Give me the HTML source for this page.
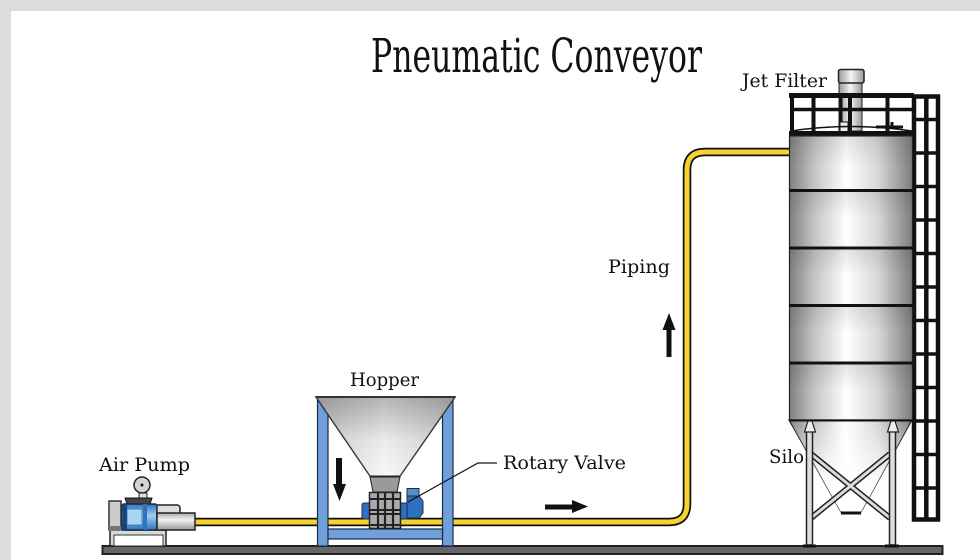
<!DOCTYPE html>
<html><head><meta charset="utf-8"><style>
html,body{margin:0;padding:0;background:#fff}
svg{display:block}
text{font-family:"DejaVu Serif","Liberation Serif",serif;fill:#111}
</style></head><body>
<svg width="980" height="560" viewBox="0 0 980 560" xmlns="http://www.w3.org/2000/svg">
<defs>
<linearGradient id="silo" x1="0" x2="1" y1="0" y2="0"><stop offset="0" stop-color="#808080"/><stop offset=".2" stop-color="#c4c4c4"/><stop offset=".46" stop-color="#fff"/><stop offset=".72" stop-color="#d8d8d8"/><stop offset="1" stop-color="#7c7c7c"/></linearGradient>
<linearGradient id="band" x1="0" x2="0" y1="0" y2="1"><stop offset="0" stop-color="#000" stop-opacity=".1"/><stop offset="1" stop-color="#000" stop-opacity="0"/></linearGradient>
<linearGradient id="fade" x1="0" x2="0" y1="0" y2="1"><stop offset="0" stop-color="#fff" stop-opacity="0"/><stop offset=".75" stop-color="#fff" stop-opacity="1"/></linearGradient>
<linearGradient id="cone" x1="0" x2="0" y1="0" y2="1"><stop offset="0" stop-color="#949494"/><stop offset=".55" stop-color="#e6e6e6"/><stop offset="1" stop-color="#fafafa"/></linearGradient>
<linearGradient id="hop" x1="0" x2="1" y1="0" y2="0"><stop offset="0" stop-color="#999"/><stop offset=".5" stop-color="#f4f4f4"/><stop offset="1" stop-color="#999"/></linearGradient>
<linearGradient id="cyl" x1="0" x2="0" y1="0" y2="1"><stop offset="0" stop-color="#aaa"/><stop offset=".4" stop-color="#f2f2f2"/><stop offset="1" stop-color="#999"/></linearGradient>
<linearGradient id="mot" x1="0" x2="0" y1="0" y2="1"><stop offset="0" stop-color="#2f72bd"/><stop offset=".45" stop-color="#9fd0f2"/><stop offset="1" stop-color="#2f72bd"/></linearGradient>
</defs>
<rect width="980" height="560" fill="#fff"/>
<rect width="980" height="11" fill="#dcdcdc"/>
<rect width="11" height="560" fill="#dcdcdc"/>

<text x="371" y="72" font-size="47" textLength="331" lengthAdjust="spacingAndGlyphs">Pneumatic Conveyor</text>

<!-- ground -->
<rect x="102.500" y="546" width="840" height="8" fill="#666" stroke="#222" stroke-width="2"/>

<!-- pipe -->
<path d="M190 522H669Q687 522 687 504V170Q687 152 705 152H792" fill="none" stroke="#111" stroke-width="8.500"/>
<path d="M190 522H669Q687 522 687 504V170Q687 152 705 152H792" fill="none" stroke="#f7d22f" stroke-width="5"/>

<!-- air pump -->
<rect x="110" y="530" width="56" height="16" fill="#d8d8d8" stroke="#222" stroke-width="1.500"/>
<rect x="114" y="535" width="49" height="11" fill="#fff" stroke="#333"/>
<rect x="109" y="501" width="12" height="29" fill="#ccc" stroke="#333" stroke-width="1.500"/>
<rect x="109" y="526" width="50" height="5" fill="#777"/>
<rect x="155" y="505" width="25" height="10" rx="3" fill="#ddd" stroke="#222" stroke-width="1.500"/>
<rect x="139" y="493" width="8" height="11" fill="#ddd" stroke="#222"/>
<circle cx="142" cy="485" r="8" fill="#d4d4d4" stroke="#222" stroke-width="1.500"/>
<circle cx="142" cy="485" r="1.500" fill="#111"/>
<path d="M125 498H152L150 504H127Z" fill="#444" stroke="#111"/>
<rect x="122" y="504" width="35" height="26" rx="2" fill="url(#mot)" stroke="#1a2b44" stroke-width="1.500"/>
<rect x="123" y="504" width="4" height="26" fill="#14427c"/>
<rect x="127" y="509" width="15" height="16" fill="#a7d5f4" stroke="#2b5d9c" stroke-width=".7"/>
<rect x="143" y="504" width="4" height="26" fill="#2f72bd"/>
<rect x="157" y="513" width="38" height="17" fill="url(#cyl)" stroke="#222" stroke-width="1.500"/>
<text x="99" y="471" font-size="19" textLength="91" lengthAdjust="spacingAndGlyphs">Air Pump</text>

<!-- hopper frame -->
<g fill="#6f9fdc" stroke="#1c2c44" stroke-width="1.200">
<rect x="317.500" y="400" width="10.500" height="146"/>
<rect x="442.500" y="400" width="10.500" height="146"/>
<rect x="328" y="529" width="114.500" height="10"/>
</g>
<path d="M316 397H455L400 476H370Z" fill="url(#cone)" stroke="#222" stroke-width="1.500"/>
<path d="M316 397H455L400 476H370Z" fill="url(#hop)" opacity=".35"/>
<path d="M316 397H455" stroke="#333" stroke-width="2"/>
<path d="M370 477H400L397 492H373Z" fill="#9a9a9a" stroke="#222"/>
<!-- blue motor + valve -->
<rect x="362" y="503" width="9" height="16" rx="2" fill="#2f6fc0" stroke="#1c2c44"/>
<rect x="400" y="503" width="8" height="16" fill="#2f6fc0" stroke="#1c2c44"/>
<rect x="407" y="488.500" width="12" height="8" fill="#4f8fd0" stroke="#1c2c44"/>
<path d="M407 496H419L423 501V513L419 518H407Z" fill="#2f6fc0" stroke="#1c2c44"/>
<rect x="369.500" y="492.500" width="31" height="36" fill="#aaa" stroke="#222" stroke-width="1.500"/>
<path d="M378 493V528M385 493V528M393 493V528" stroke="#222" stroke-width="2.200"/>
<path d="M370 499H400M370 510H400M370 514H400M370 525H400" stroke="#222" stroke-width="2"/>
<path d="M339 458V488" stroke="#111" stroke-width="6"/>
<path d="M333 484H346L339.500 501Z" fill="#111"/>
<path d="M497 463H478L408 502" fill="none" stroke="#111" stroke-width="1.200"/>
<text x="350" y="386" font-size="19" textLength="69" lengthAdjust="spacingAndGlyphs">Hopper</text>
<text x="503" y="469" font-size="19" textLength="123" lengthAdjust="spacingAndGlyphs">Rotary Valve</text>

<!-- arrows -->
<path d="M545 507H575" stroke="#111" stroke-width="5"/>
<path d="M572 500L588 506.500L572 513Z" fill="#111"/>
<path d="M669 357V328" stroke="#111" stroke-width="5"/>
<path d="M662.500 330L669 313L675.500 330Z" fill="#111"/>
<text x="608" y="273" font-size="19" textLength="62" lengthAdjust="spacingAndGlyphs">Piping</text>

<!-- ladder -->
<g fill="none" stroke="#111">
<rect x="914" y="96.500" width="24" height="423" stroke-width="4.500"/>
<path d="M926.300 96V520" stroke-width="4.500"/>
<path d="M914 119.500H938M914 153H938M914 186.500H938M914 220H938M914 253.500H938M914 287H938M914 320.500H938M914 354H938M914 387.500H938M914 421H938M914 454.500H938M914 488H938" stroke-width="3.500"/>
</g>

<!-- filter -->
<rect x="839" y="83" width="23" height="48" fill="url(#hop)" stroke="#222"/>
<rect x="838.500" y="69.500" width="25.500" height="13.500" rx="2" fill="url(#hop)" stroke="#222" stroke-width="1.500"/>
<text x="742" y="87" font-size="19" textLength="85" lengthAdjust="spacingAndGlyphs">Jet Filter</text>

<!-- railing -->
<g fill="none" stroke="#111">
<path d="M789 95.500H914" stroke-width="5"/>
<path d="M790 109.500H914" stroke-width="3.500"/>
<path d="M792 95V132M813.500 95V132M850 95V132M887.500 95V132" stroke-width="4"/>
<path d="M841 95V130" stroke-width="3"/>
</g>
<rect x="840" y="122" width="8" height="10" fill="#eee" stroke="#111"/>
<path d="M876 127H903M892 128V122" stroke="#111" stroke-width="3"/>
<path d="M791 131Q850 122 912 131" fill="none" stroke="#111" stroke-width="1.500"/>
<rect x="789" y="131" width="124" height="6" fill="#111"/>

<!-- silo -->
<rect x="789.500" y="136" width="123" height="284" fill="url(#silo)" stroke="#222" stroke-width="1.200"/>
<rect x="790" y="137" width="122" height="30" fill="url(#band)"/>
<rect x="790" y="191" width="122" height="26" fill="url(#band)"/>
<rect x="790" y="249" width="122" height="26" fill="url(#band)"/>
<rect x="790" y="306" width="122" height="26" fill="url(#band)"/>
<rect x="790" y="364" width="122" height="26" fill="url(#band)"/>
<path d="M789 190.500H913M789 248H913M789 305.500H913M789 363H913" stroke="#111" stroke-width="3"/>
<path d="M789 420H912L861 512H841Z" fill="url(#silo)" stroke="#222" stroke-width="1.200"/>
<path d="M789 420H912L861 512H841Z" fill="url(#fade)"/>
<path d="M789 420.500H913" stroke="#111" stroke-width="2"/>
<path d="M841 513H861" stroke="#111" stroke-width="3"/>

<!-- braces -->
<path d="M811 454L890 518M890 454L811 518" stroke="#222" stroke-width="6"/>
<path d="M811 454L890 518M890 454L811 518" stroke="#ddd" stroke-width="3"/>
<!-- legs -->
<rect x="806.500" y="431" width="6" height="114" fill="#ddd" stroke="#222" stroke-width="1.500"/>
<rect x="889.500" y="431" width="6" height="114" fill="#ddd" stroke="#222" stroke-width="1.500"/>
<path d="M804.500 432L808 421H812L815.500 432ZM887.500 432L891 421H895L898.500 432Z" fill="#eee" stroke="#222" stroke-width="1.200"/>
<path d="M803 546H816M885 546H899" stroke="#111" stroke-width="3"/>
<text x="769" y="463" font-size="19" textLength="35" lengthAdjust="spacingAndGlyphs">Silo</text>
</svg>
</body></html>
